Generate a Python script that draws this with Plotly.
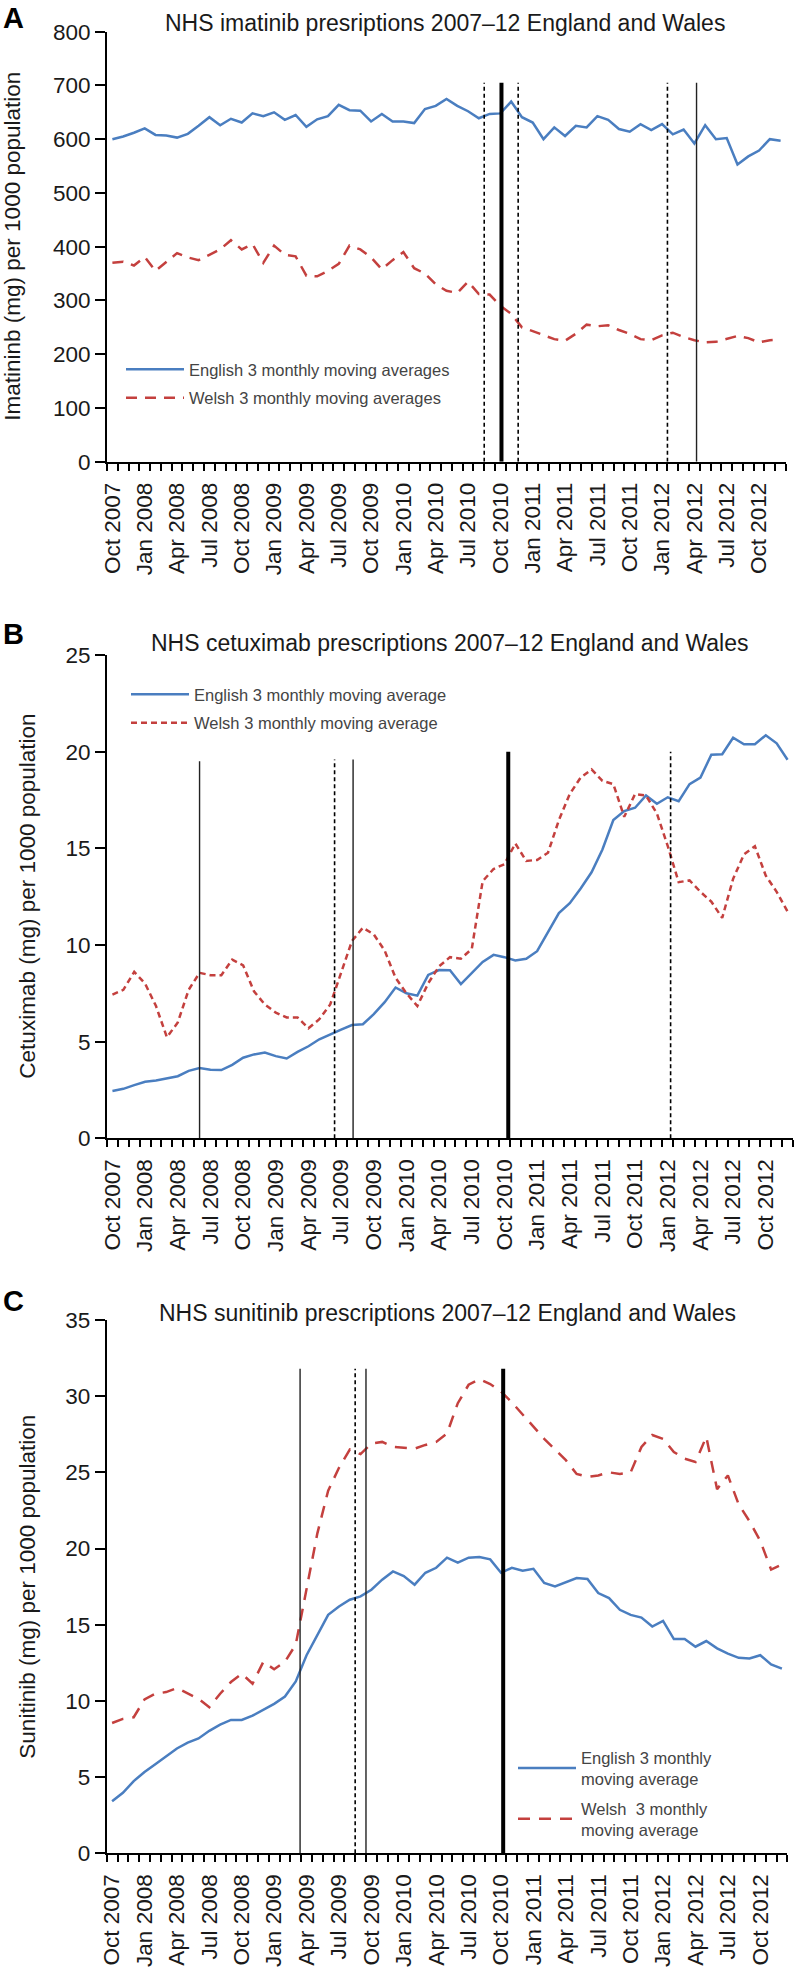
import plotly.graph_objects as go

W, H = 794, 1970

# ---------------- data ----------------
months = list(range(63))  # Oct 2007 ... Dec 2012 (monthly)
tick_months = list(range(0, 61, 3))
tick_labels = ["Oct 2007", "Jan 2008", "Apr 2008", "Jul 2008", "Oct 2008", "Jan 2009",
               "Apr 2009", "Jul 2009", "Oct 2009", "Jan 2010", "Apr 2010", "Jul 2010",
               "Oct 2010", "Jan 2011", "Apr 2011", "Jul 2011", "Oct 2011", "Jan 2012",
               "Apr 2012", "Jul 2012", "Oct 2012"]

imatinib_english = [600, 605, 612, 620, 608, 607, 603, 610, 625, 641, 626, 638, 631, 648, 643, 650,
                    636, 645, 623, 637, 643, 664, 654, 653, 633, 647, 633, 633, 630, 656, 662, 675,
                    662, 652, 639, 647, 648, 670, 641, 631, 600, 622, 606, 625, 622, 643, 636, 619,
                    614, 628, 617, 628, 609, 618, 592, 626, 600, 602, 553, 568, 579, 600, 597]
imatinib_welsh = [370, 372, 365, 381, 355, 372, 388, 380, 375, 385, 395, 412, 395, 405, 370, 402,
                  385, 382, 346, 345, 355, 368, 402, 395, 380, 358, 375, 390, 360, 350, 330, 318,
                  314, 335, 312, 311, 290, 275, 250, 243, 235, 228, 225, 238, 255, 252, 254, 245,
                  238, 228, 226, 235, 240, 232, 226, 222, 223, 228, 234, 230, 222, 226, 227]

cetuximab_english = [2.45, 2.56, 2.75, 2.92, 2.99, 3.09, 3.21, 3.49, 3.63, 3.55, 3.53, 3.80, 4.17,
                     4.34, 4.44, 4.25, 4.13, 4.47, 4.76, 5.12, 5.35, 5.62, 5.86, 5.90, 6.42, 7.04,
                     7.80, 7.50, 7.38, 8.45, 8.70, 8.69, 7.98, 8.55, 9.12, 9.49, 9.37, 9.20, 9.29,
                     9.68, 10.64, 11.65, 12.16, 12.92, 13.76, 14.94, 16.46, 16.93, 17.10, 17.73,
                     17.30, 17.64, 17.44, 18.32, 18.66, 19.84, 19.87, 20.72, 20.38, 20.38, 20.85,
                     20.43, 19.58]
cetuximab_welsh = [7.43, 7.68, 8.61, 8.0, 6.84, 5.23, 5.99, 7.68, 8.56, 8.44, 8.44, 9.24, 8.95,
                   7.60, 6.92, 6.50, 6.25, 6.25, 5.69, 6.16, 6.92, 8.53, 10.21, 10.89, 10.55, 9.71,
                   8.3, 7.5, 6.84, 8.02, 8.9, 9.37, 9.29, 9.8, 13.3, 13.93, 14.18, 15.25, 14.35,
                   14.40, 14.77, 16.46, 17.81, 18.66, 19.08, 18.49, 18.32, 16.63, 17.81, 17.73,
                   16.80, 15.11, 13.25, 13.34, 12.75, 12.24, 11.40, 13.42, 14.69, 15.11, 13.59,
                   12.75, 11.73]

sunitinib_english = [3.41, 3.97, 4.74, 5.33, 5.84, 6.39, 6.88, 7.27, 7.54, 8.04, 8.44, 8.75, 8.75,
                     9.03, 9.41, 9.81, 10.29, 11.28, 13.0, 14.29, 15.65, 16.2, 16.64, 16.86, 17.30,
                     17.96, 18.5, 18.2, 17.63, 18.41, 18.74, 19.4, 19.07, 19.4, 19.44, 19.29, 18.41,
                     18.74, 18.55, 18.67, 17.74, 17.52, 17.81, 18.07, 18.0, 17.08, 16.75, 15.98,
                     15.65, 15.47, 14.88, 15.25, 14.06, 14.06, 13.56, 13.93, 13.45, 13.11, 12.83,
                     12.79, 13.0, 12.39, 12.12]
sunitinib_welsh = [8.55, 8.82, 8.93, 10.1, 10.47, 10.58, 10.85, 10.47, 10.14, 9.59, 10.47, 11.24,
                   11.79, 11.13, 12.57, 12.08, 12.57, 13.7, 17.3, 21.0, 23.8, 25.3, 26.5, 26.2,
                   26.9, 27.0, 26.67, 26.6, 26.56, 26.8, 27.0, 27.55, 29.54, 30.75, 31.12, 30.8,
                   30.3, 29.6, 28.8, 28.0, 27.2, 26.5, 25.8, 24.9, 24.7, 24.8, 25.0, 24.9, 25.0,
                   26.67, 27.45, 27.2, 26.34, 25.9, 25.68, 27.33, 23.9, 24.8, 22.9, 21.8, 20.5,
                   18.62, 18.96]

# event markers (month position, style, height)
imatinib_events = [34.5, 36.1, 37.65, 51.5, 54.2]
imatinib_event_styles = ["dash", "thick", "dash", "dash", "solid"]
imatinib_event_tops = [705, 705, 705, 705, 705]
cetuximab_events = [8.0, 20.4, 22.1, 36.35, 51.26]
cetuximab_event_styles = ["solid", "dash", "solid", "thick", "dash"]
cetuximab_event_tops = [19.5, 19.6, 19.6, 20.0, 20.0]
sunitinib_events = [17.4, 22.5, 23.5, 36.2]
sunitinib_event_styles = ["solid", "dash", "solid", "thick"]
sunitinib_event_tops = [31.8, 31.8, 31.8, 31.8]

# ---------------- styling ----------------
FONT = "Liberation Sans, Arial, Helvetica, sans-serif"
BLUE = "#4A7EC0"
RED = "#C4403E"
TXT = "#1a1a1a"
TICK_SIZE = 22.5


def xf(p):
    return p / W


def yf(p):
    return 1 - p / H


panels = [
    dict(k="", x0=107, x1=786, top=31.7, bot=461.7, yr=[0, 800], dt=100,
         eng=imatinib_english, wel=imatinib_welsh, wdash="11px,8px",
         ev=imatinib_events, evs=imatinib_event_styles, evt=imatinib_event_tops,
         names=["English 3 monthly moving averages", "Welsh 3 monthly moving averages"],
         title="NHS imatinib presriptions 2007\u201312 England and Wales", tx=445, ty=23,
         ylab="Imatininb (mg) per 1000 population", ylx=13,
         letter="A", ly=18, leg=dict(x=121, y=352), gap=4),
    dict(k="2", x0=107, x1=793, top=655, bot=1138.3, yr=[0, 25], dt=5,
         eng=cetuximab_english, wel=cetuximab_welsh, wdash="6px,4px",
         ev=cetuximab_events, evs=cetuximab_event_styles, evt=cetuximab_event_tops,
         names=["English 3 monthly moving average", "Welsh 3 monthly moving average"],
         title="NHS cetuximab prescriptions 2007\u201312 England and Wales", tx=449, ty=643,
         ylab="Cetuximab (mg) per 1000 population", ylx=28,
         letter="B", ly=634, leg=dict(x=126, y=677), gap=4),
    dict(k="3", x0=106.7, x1=787.3, top=1320, bot=1853.3, yr=[0, 35], dt=5,
         eng=sunitinib_english, wel=sunitinib_welsh, wdash="12px,9px",
         ev=sunitinib_events, evs=sunitinib_event_styles, evt=sunitinib_event_tops,
         names=["English 3 monthly<br>moving average", "Welsh\u00a0 3 monthly<br>moving average"],
         title="NHS sunitinib prescriptions 2007\u201312 England and Wales", tx=447, ty=1313,
         ylab="Sunitinib (mg) per 1000 population", ylx=28,
         letter="C", ly=1301, leg=dict(x=513, y=1740), gap=5),
]

fig = go.Figure()
shapes = []
annotations = []
layout = dict(width=W, height=H, margin=dict(l=0, r=0, t=0, b=0, pad=0, autoexpand=False),
              paper_bgcolor="white", plot_bgcolor="white", showlegend=True,
              font=dict(family=FONT, color=TXT))

for n, p in enumerate(panels):
    k = p["k"]
    xa, ya = "x" + k, "y" + k
    legname = "legend" + k
    fig.add_trace(go.Scatter(x=months, y=p["eng"], mode="lines", name=p["names"][0],
                             line=dict(color=BLUE, width=2.5), xaxis=xa, yaxis=ya,
                             legend=legname, legendgroup="e" + k))
    fig.add_trace(go.Scatter(x=months, y=p["wel"], mode="lines", name=p["names"][1],
                             line=dict(color=RED, width=2.5, dash=p["wdash"]), xaxis=xa, yaxis=ya,
                             legend=legname, legendgroup="w" + k))

    layout["xaxis" + k] = dict(
        domain=[xf(p["x0"]), xf(p["x1"])], anchor=ya, range=[-0.5, 62.5],
        showline=True, linecolor="black", linewidth=2, showgrid=False, zeroline=False,
        tickmode="array", tickvals=tick_months, ticktext=tick_labels, ticks="",
        tickangle=-90, tickfont=dict(size=TICK_SIZE, family=FONT, color=TXT),
        ticklabelstandoff=10, automargin=False,
        minor=dict(tickmode="linear", tick0=-0.5, dtick=1, ticks="outside", ticklen=7,
                   tickwidth=1.5, tickcolor="black", showgrid=False),
    )
    layout["yaxis" + k] = dict(
        domain=[yf(p["bot"]), yf(p["top"])], anchor=xa, range=p["yr"], dtick=p["dt"],
        tick0=0, showline=True, linecolor="black", linewidth=2, showgrid=False,
        zeroline=False, ticks="outside", ticklen=10, tickwidth=1.5, tickcolor="black",
        tickfont=dict(size=TICK_SIZE, family=FONT, color=TXT), automargin=False,
    )
    layout[legname] = dict(x=xf(p["leg"]["x"]), y=yf(p["leg"]["y"]), xanchor="left",
                           yanchor="top", bgcolor="rgba(0,0,0,0)", itemwidth=58,
                           font=dict(size=16.5, family=FONT, color="#444"),
                           traceorder="grouped", tracegroupgap=p["gap"])

    for e, s, t in zip(p["ev"], p["evs"], p["evt"]):
        if s == "thick":
            ln = dict(color="black", width=4)
        elif s == "dash":
            ln = dict(color="black", width=1.6, dash="4px,3px")
        else:
            ln = dict(color="#222", width=1.4)
        shapes.append(dict(type="line", xref=xa, yref=ya, x0=e, x1=e, y0=0, y1=t,
                           line=ln, layer="above"))

    annotations.append(dict(text=p["title"], xref="paper", yref="paper", x=xf(p["tx"]),
                            y=yf(p["ty"]), xanchor="center", yanchor="middle",
                            showarrow=False, font=dict(size=23, family=FONT, color=TXT)))
    annotations.append(dict(text=p["ylab"], xref="paper", yref="paper", x=xf(p["ylx"]),
                            y=yf((p["top"] + p["bot"]) / 2), xanchor="center",
                            yanchor="middle", textangle=-90, showarrow=False,
                            font=dict(size=TICK_SIZE, family=FONT, color=TXT)))
    annotations.append(dict(text="<b>" + p["letter"] + "</b>", xref="paper", yref="paper",
                            x=xf(13), y=yf(p["ly"]), xanchor="center", yanchor="middle",
                            showarrow=False, font=dict(size=29, family=FONT, color="black")))

layout["shapes"] = shapes
layout["annotations"] = annotations
fig.update_layout(**layout)
fig.write_html("out.html", config={"displayModeBar": False},
               post_script="document.body.style.margin='0px';"
                           "document.documentElement.style.overflow='hidden';")
